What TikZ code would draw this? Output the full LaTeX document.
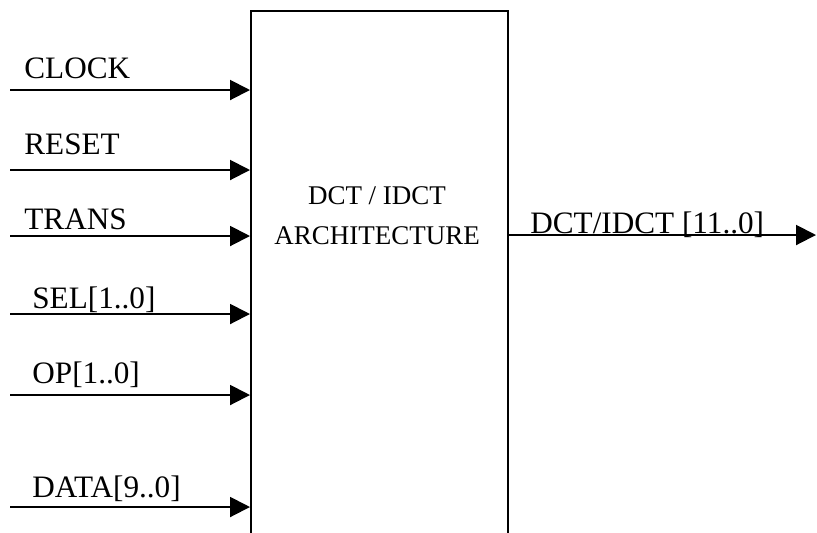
\documentclass[tikz,border=0pt]{standalone}
\usepackage{fontspec}
\setmainfont{Liberation Serif}
\usetikzlibrary{arrows.meta}
\begin{document}
\begin{tikzpicture}[x=0.5pt, y=-0.5pt, line join=miter, >={Triangle[length=10pt,width=10pt]}, font=\fontsize{15.6pt}{18pt}\selectfont]
\tikzset{pin/.style={line width=1pt,->}, sig/.style={anchor=base west, inner sep=0pt}}
\useasboundingbox (0,0) rectangle (817,532);
\clip (0,0) rectangle (817,532);
% khoi chinh
\node[draw, line width=1pt, anchor=north west, minimum width=128.5pt, minimum height=280pt, inner sep=0pt] (arch) at (250,10) {};
\node[align=center, inner sep=0pt, font=\fontsize{13.5pt}{20pt}\selectfont] (archtxt) at (377,216) {DCT / IDCT\\ARCHITECTURE};
% cac ngo vao
\foreach \y/\b/\x/\lab [count=\i] in {90/78/24/CLOCK, 170/154/24/RESET, 236/229/24/TRANS, 314/308/32/{SEL[1..0]}, 395/383/32/{OP[1..0]}, 507/497/32/{DATA[9..0]}}{
  \coordinate (in\i) at (10,\y);
  \node[sig] (sig\i) at (\x,\b) {\lab};
  \draw[pin] (in\i) -- (in\i -| arch.west);
}
% ngo ra
\coordinate (out) at (816,235);
\draw[pin] (arch.east |- out) -- (out);
\node[sig] (dout) at (530,233) {DCT/IDCT [11..0]};
\end{tikzpicture}
\end{document}
